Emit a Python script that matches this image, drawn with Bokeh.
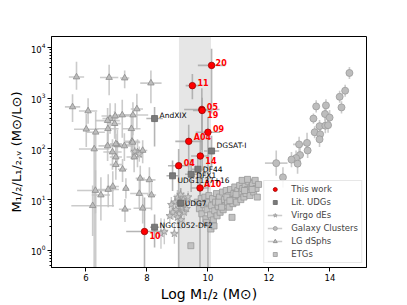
import numpy as np
from bokeh.plotting import figure
from bokeh.models import (ColumnDataSource, BoxAnnotation, Legend, LegendItem,
                          FixedTicker, LogTickFormatter)
from bokeh.embed import file_html
from bokeh.resources import INLINE
from bokeh.core.properties import value

# ---------------- data (x = log M1/2, y = log10 of M/L) ----------------
band_lo, band_hi = 9.05, 10.1

work_names = ["20", "11", "05", "19", "09", "A04", "14", "04", "A10", "10"]
work_x = [10.12, 9.49, 9.80, 9.81, 10.00, 9.37, 9.75, 9.04, 9.74, 7.92]
work_logml = [3.65, 3.25, 2.78, 2.76, 2.33, 2.15, 1.86, 1.67, 1.23, 0.37]
work_xerr = [0.45, 0.22, 0.58, 0.30, 0.40, 0.44, 0.30, 0.35, 0.30, 0.60]
work_ylo = [0.95, 0.27, 0.80, 1.20, 3.0, 0.65, 0.90, 3.0, 3.0, 0.70]
work_yhi = [0.33, 0.23, 0.42, 0.25, 0.30, 0.33, 0.35, 0.33, 0.37, 0.67]

udg_names = ["AndXIX", "DGSAT-I", "DF44", "DFX1", "UDG1137+16", "UDG7", "NGC1052-DF2"]
udg_x = [8.25, 10.12, 9.67, 9.45, 8.84, 9.11, 8.25]
udg_logml = [2.60, 1.96, 1.60, 1.50, 1.47, 0.93, 0.455]
udg_xerr = [0.27, 0.25, 0.20, 0.20, 0.20, 0.20, 0.15]
udg_ylo = [0.55, 0.30, 0.30, 0.35, 0.30, 0.30, 0.40]
udg_yhi = [0.23, 0.30, 0.25, 0.30, 0.30, 0.30, 0.25]

virgo_x = [9.00, 9.10, 9.20, 9.22, 8.95, 9.05, 9.15, 8.85, 8.92, 9.08, 9.25, 9.30,
           8.80, 9.00, 8.46, 8.57, 8.90, 9.12, 8.75, 9.35, 7.60, 7.75]
virgo_logml = [1.04, 1.10, 1.00, 0.75, 0.80, 0.72, 0.85, 0.75, 0.95, 0.92, 0.95, 0.82,
               0.90, 0.65, 0.33, 0.37, 0.33, 0.60, 0.68, 1.05, 1.95, 1.90]
virgo_xerr = [0.10, 0.10, 0.12, 0.10, 0.10, 0.12, 0.10, 0.10, 0.10, 0.12, 0.10, 0.10,
              0.10, 0.12, 0.15, 0.12, 0.12, 0.10, 0.10, 0.10, 0.15, 0.12]
virgo_yerr = [0.15, 0.12, 0.15, 0.20, 0.15, 0.18, 0.12, 0.15, 0.15, 0.12, 0.15, 0.12,
              0.15, 0.20, 0.30, 0.25, 0.20, 0.18, 0.15, 0.12, 0.15, 0.15]

clus_x = [14.64, 14.50, 14.32, 14.38, 13.55, 13.87, 13.46, 13.84, 13.99, 13.66, 13.85,
          13.94, 13.50, 13.68, 13.66, 12.99, 13.25, 13.27, 13.02, 12.89, 12.74, 12.94,
          12.24, 12.46]
clus_logml = [3.50, 3.15, 3.03, 2.82, 2.84, 2.86, 2.60, 2.69, 2.62, 2.45, 2.46, 2.47,
              2.33, 2.29, 2.19, 2.09, 2.12, 1.97, 1.88, 1.82, 1.79, 1.71, 1.72, 1.44]
clus_xerr = [0.08, 0.08, 0.08, 0.08, 0.08, 0.10, 0.08, 0.08, 0.08, 0.10, 0.08, 0.08,
             0.10, 0.08, 0.10, 0.20, 0.10, 0.10, 0.12, 0.10, 0.10, 0.10, 0.37, 0.10]
clus_yerr = [0.12, 0.12, 0.12, 0.12, 0.12, 0.12, 0.10, 0.15, 0.15, 0.12, 0.15, 0.15,
             0.12, 0.12, 0.15, 0.15, 0.20, 0.15, 0.20, 0.15, 0.15, 0.20, 0.25, 0.20]

lg_x = [5.69, 6.76, 7.27, 8.13, 5.56, 6.07, 7.67, 7.54, 7.19, 6.96, 6.79, 6.71, 6.94,
        6.01, 6.32, 6.72, 7.49, 7.51, 7.03, 6.27, 6.71, 6.98, 7.26, 7.53, 7.69, 7.86,
        7.58, 6.87, 6.98, 6.98, 7.20, 7.78, 8.08, 8.15, 7.75, 7.31, 6.88, 6.73, 6.49,
        6.31, 6.22, 7.28, 7.86]
lg_logml = [3.42, 3.41, 3.40, 3.30, 2.83, 2.75, 2.79, 2.67, 2.67, 2.65, 2.60, 2.56, 2.50,
            2.39, 2.33, 2.40, 2.40, 2.15, 2.08, 2.00, 2.06, 2.10, 2.06, 2.13, 1.94, 1.97,
            1.84, 1.94, 1.84, 1.69, 1.60, 1.42, 1.39, 1.09, 1.12, 1.22, 1.26, 1.20, 1.09,
            1.18, 0.88, 0.81, 0.83]
lg_xerr = [0.25, 0.30, 0.15, 0.35, 0.25, 0.30, 0.20, 0.50, 0.30, 0.45, 0.25, 0.40, 0.20,
           0.40, 0.30, 0.35, 0.30, 0.25, 0.40, 0.50, 0.30, 0.20, 0.30, 0.25, 0.20, 0.15,
           0.25, 0.30, 0.20, 0.20, 0.15, 0.15, 0.20, 0.15, 0.30, 0.10, 0.20, 0.35, 0.30,
           0.60, 0.70, 0.20, 0.30]
lg_ylo = [0.25, 0.35, 0.20, 0.40, 0.30, 0.25, 0.40, 0.40, 0.45, 0.35, 0.30, 0.50, 0.30,
          0.35, 3.0, 0.30, 0.45, 0.30, 0.35, 3.0, 0.30, 0.25, 0.30, 0.35, 0.30, 0.25,
          0.30, 0.35, 0.25, 0.30, 0.25, 0.35, 0.30, 0.30, 0.30, 0.20, 0.40, 0.35, 0.50,
          0.45, 0.60, 0.25, 0.30]
lg_yhi = [0.30, 0.25, 0.15, 0.25, 0.25, 0.25, 0.30, 0.25, 0.30, 0.25, 0.30, 0.25, 0.25,
          0.30, 0.40, 0.25, 0.30, 0.25, 0.30, 0.35, 0.25, 0.20, 0.25, 0.25, 0.25, 0.20,
          0.25, 0.25, 0.20, 0.25, 0.20, 0.25, 0.25, 0.25, 0.25, 0.20, 0.30, 0.30, 0.35,
          0.40, 0.40, 0.20, 0.25]

etg_x = [9.65, 9.72, 9.78, 9.80, 9.86, 9.90, 9.93, 9.97, 10.00, 10.03, 10.06, 10.08,
         10.12, 10.15, 10.18, 10.22, 10.25, 10.28, 10.30, 10.34, 10.38, 10.40, 10.44,
         10.48, 10.50, 10.54, 10.58, 10.60, 10.64, 10.68, 10.70, 10.74, 10.78, 10.82,
         10.85, 10.88, 10.90, 10.94, 10.98, 11.00, 11.04, 11.08, 11.10, 11.14, 11.18,
         11.22, 11.25, 11.30, 11.34, 11.38, 11.42, 11.46, 11.50, 11.55, 11.58, 11.62,
         11.66, 10.79, 9.44, 10.10, 10.20, 9.95, 11.12, 11.30, 10.35, 10.62, 10.92,
         11.20, 11.45, 10.45, 10.72]
etg_logml = [0.95, 0.82, 1.02, 0.72, 0.90, 1.05, 0.62, 0.80, 0.95, 1.08, 0.52, 0.70,
             0.88, 1.02, 0.60, 0.78, 0.95, 1.12, 0.68, 0.86, 1.05, 0.75, 0.92,
             1.15, 0.80, 1.00, 0.88, 1.18, 0.95, 1.08, 0.85, 1.20, 1.00, 0.92,
             1.12, 1.25, 1.02, 0.95, 1.18, 1.08, 1.28, 1.00, 1.15, 1.22, 1.05,
             1.30, 1.12, 1.20, 1.35, 1.08, 1.25, 1.32, 1.15, 1.38, 1.22, 1.05,
             1.30, 0.65, 0.09, 0.42, 0.48, 0.55, 1.38, 1.40, 0.95, 1.05, 1.10,
             1.18, 1.20, 0.85, 0.98]

x_ticks = [6, 8, 10, 12, 14]
y_ticks = [1, 10, 100, 1000, 10000]

# ---------------- helpers ----------------
def src(x, logml, xerr, ylo, yhi, names=None):
    x = np.asarray(x, float)
    ly = np.asarray(logml, float)
    xe = np.asarray(xerr, float)
    d = dict(x=x, y=10 ** ly, xl=x - xe, xr=x + xe,
             yb=10 ** (ly - np.asarray(ylo, float)), yt=10 ** (ly + np.asarray(yhi, float)))
    if names is not None:
        d["name"] = names
    return ColumnDataSource(d)


def errbars(p, s, color, alpha, width):
    h = p.segment(x0="xl", y0="y", x1="xr", y1="y", source=s, line_color=color,
                  line_alpha=alpha, line_width=width)
    v = p.segment(x0="x", y0="yb", x1="x", y1="yt", source=s, line_color=color,
                  line_alpha=alpha, line_width=width)
    return h, v


p = figure(width=406, height=304, output_backend="svg", toolbar_location=None,
           title=None,
           x_range=(4.87, 15.2), y_range=(10 ** -0.34, 10 ** 4.22), y_axis_type="log",
           min_border_left=51, min_border_right=40, min_border_top=36, min_border_bottom=30)
p.background_fill_color = "white"
p.border_fill_color = "white"
p.outline_line_color = "black"
p.outline_line_width = 1
p.xgrid.visible = False
p.ygrid.visible = False

p.add_layout(BoxAnnotation(left=band_lo, right=band_hi, fill_color="gray",
                           fill_alpha=0.2, line_alpha=0, level="underlay"))

s_work = src(work_x, work_logml, work_xerr, work_ylo, work_yhi, work_names)
s_udg = src(udg_x, udg_logml, udg_xerr, udg_ylo, udg_yhi, udg_names)
s_virgo = src(virgo_x, virgo_logml, virgo_xerr, virgo_yerr, virgo_yerr)
s_clus = src(clus_x, clus_logml, clus_xerr, clus_yerr, clus_yerr)
s_lg = src(lg_x, lg_logml, lg_xerr, lg_ylo, lg_yhi)
s_etg = ColumnDataSource(dict(x=etg_x, y=10 ** np.asarray(etg_logml)))

gcol = "#c2c2c2"
lg_h, _ = errbars(p, s_lg, gcol, 0.85, 1.6)
cl_h, _ = errbars(p, s_clus, gcol, 0.85, 1.6)
vi_h, _ = errbars(p, s_virgo, gcol, 0.85, 1.4)
errbars(p, s_udg, "#a8a8a8", 0.85, 1.6)
errbars(p, s_work, "#a8a8a8", 0.85, 1.6)

r_lg = p.scatter("x", "y", source=s_lg, marker="triangle", size=6.5,
                 fill_color="#bdbdbd", line_color="#8c8c8c", line_width=0.8)
r_clus = p.scatter("x", "y", source=s_clus, marker="circle", size=7,
                   fill_color="#bdbdbd", line_color="#9a9a9a", line_width=0.8)
r_virgo = p.scatter("x", "y", source=s_virgo, marker="star", size=8,
                    fill_color="#c8c8c8", line_color="#999999", line_width=0.8)
r_etg = p.scatter("x", "y", source=s_etg, marker="square", size=6,
                  fill_color="#c2c2c2", line_color="#999999", line_width=0.8)
r_udg = p.scatter("x", "y", source=s_udg, marker="square", size=6,
                  fill_color="#7a7a7a", line_color="#666666", line_width=0.8)
r_work = p.scatter("x", "y", source=s_work, marker="circle", size=6.5,
                   fill_color="#ff0000", line_color="#990000", line_width=0.8)

work_dx = [4, 5, 5, 5, 5, 5, 5, 5, 4, 5]
work_dy = [-3, -3, -3, 4, -4, -4, 4, -3, -3, 4]
udg_dx = [5, 5, 5, 5, 5, 4, 5]
udg_dy = [-3, -5, 0, 1, 5, 0, -2]
s_work.data["dx"] = work_dx
s_work.data["dy"] = work_dy
s_udg.data["dx"] = udg_dx
s_udg.data["dy"] = udg_dy

p.text("x", "y", text="name", source=s_work, x_offset="dx", y_offset="dy",
       text_font=value("DejaVu Sans"), text_font_size="8px", text_font_style="bold",
       text_color="#ff0000", text_align="left", text_baseline="middle")
p.text("x", "y", text="name", source=s_udg, x_offset="dx", y_offset="dy",
       text_font=value("DejaVu Sans"), text_font_size="7.5px",
       text_color="black", text_align="left", text_baseline="middle")

# axes
p.xaxis.ticker = FixedTicker(ticks=x_ticks, minor_ticks=[])
minor = [m * 10.0 ** k for k in range(-1, 5) for m in range(2, 10)]
p.yaxis.ticker = FixedTicker(ticks=y_ticks, minor_ticks=minor)
p.yaxis.formatter = LogTickFormatter()
for ax in (p.xaxis, p.yaxis):
    ax.major_label_text_font = "DejaVu Sans"
    ax.major_label_text_font_size = "8.5px"
    ax.major_label_text_color = "black"
    ax.axis_label_text_font = "DejaVu Sans"
    ax.axis_label_text_font_size = "14px"
    ax.axis_label_text_font_style = "normal"
    ax.axis_label_text_color = "black"
    ax.major_tick_out = 4
    ax.major_tick_in = 0
    ax.minor_tick_out = 2
    ax.minor_tick_in = 0
    ax.major_label_standoff = 2
    ax.axis_label_standoff = 2
    ax.axis_line_color = "black"
p.yaxis.axis_label_standoff = 4
p.yaxis.axis_label_text_font_size = "13px"
p.xaxis.axis_label = "Log M₁/₂ (M⊙)"
p.yaxis.axis_label = "M₁/₂/L₁/₂,ᵥ (M⊙/L⊙)"

legend = Legend(items=[
    LegendItem(label="This work", renderers=[r_work]),
    LegendItem(label="Lit. UDGs", renderers=[r_udg]),
    LegendItem(label="Virgo dEs", renderers=[vi_h, r_virgo]),
    LegendItem(label="Galaxy Clusters", renderers=[cl_h, r_clus]),
    LegendItem(label="LG dSphs", renderers=[lg_h, r_lg]),
    LegendItem(label="ETGs", renderers=[r_etg]),
], location="bottom_right")
legend.label_text_font = "DejaVu Sans"
legend.label_text_font_size = "8.5px"
legend.label_height = 10
legend.glyph_height = 10
legend.glyph_width = 15
legend.spacing = 3
legend.padding = 3
legend.margin = 4
legend.label_standoff = 9
legend.border_line_color = "#d0d0d0"
legend.background_fill_alpha = 0.85
p.add_layout(legend, "center")

open("out.html", "w").write(file_html(p, INLINE))
